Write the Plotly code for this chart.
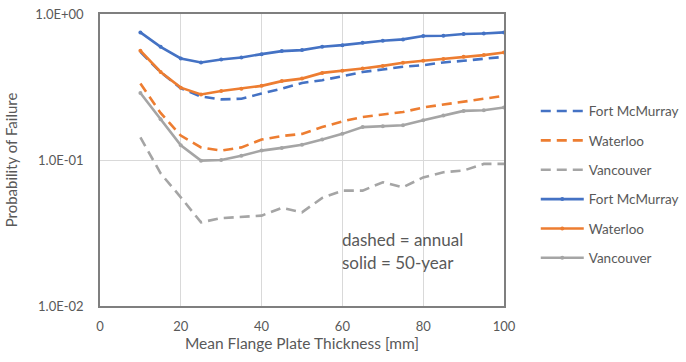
import plotly.graph_objects as go

thickness = [10, 15, 20, 25, 30, 35, 40, 45, 50, 55, 60, 65, 70, 75, 80, 85, 90, 95, 100]

fort_annual = [0.55, 0.40, 0.31, 0.272, 0.26, 0.263, 0.285, 0.308, 0.337, 0.352, 0.375, 0.401,
               0.417, 0.435, 0.446, 0.466, 0.478, 0.496, 0.509]
waterloo_annual = [0.334, 0.21, 0.147, 0.122, 0.116, 0.122, 0.138, 0.146, 0.151, 0.168, 0.184, 0.197,
                   0.205, 0.213, 0.229, 0.240, 0.25, 0.262, 0.275]
vancouver_annual = [0.143, 0.081, 0.0555, 0.0374, 0.040, 0.0408, 0.0416, 0.047, 0.0438, 0.055, 0.0617,
                    0.0617, 0.0704, 0.065, 0.076, 0.0824, 0.0847, 0.094, 0.094]

fort_50 = [0.748, 0.596, 0.496, 0.466, 0.488, 0.504, 0.531, 0.557, 0.566, 0.596, 0.612, 0.636,
           0.656, 0.670, 0.706, 0.71, 0.729, 0.736, 0.748]
waterloo_50 = [0.56, 0.401, 0.313, 0.281, 0.297, 0.308, 0.322, 0.347, 0.361, 0.395, 0.408, 0.423,
               0.441, 0.463, 0.478, 0.491, 0.509, 0.523, 0.545]
vancouver_50 = [0.288, 0.19, 0.126, 0.099, 0.100, 0.107, 0.116, 0.121, 0.127, 0.138, 0.151, 0.168,
                0.170, 0.173, 0.187, 0.202, 0.217, 0.219, 0.229]

y_tickvals = [0.01, 0.1, 1]
y_ticktext = ["1.0E-02", "1.0E-01", "1.0E+00"]

BLUE = "#4472C4"
ORANGE = "#ED7D31"
GRAY = "#A5A5A5"
TEXT = "#595959"
FONT = "Lato, 'Open Sans', sans-serif"

fig = go.Figure()

annual = [("Fort McMurray", fort_annual, BLUE), ("Waterloo", waterloo_annual, ORANGE),
          ("Vancouver", vancouver_annual, GRAY)]
fifty = [("Fort McMurray", fort_50, BLUE), ("Waterloo", waterloo_50, ORANGE),
         ("Vancouver", vancouver_50, GRAY)]

for i, (name, vals, col) in enumerate(annual):
    fig.add_trace(go.Scatter(x=thickness, y=vals, name=name, mode="lines",
                             line=dict(color=col, width=2.6, dash="10px,6px"),
                             legendgroup="a%d" % i))
for i, (name, vals, col) in enumerate(fifty):
    fig.add_trace(go.Scatter(x=thickness, y=vals, name=name, mode="lines+markers",
                             line=dict(color=col, width=2.6),
                             marker=dict(color=col, size=4, symbol="circle"),
                             legendgroup="b%d" % i))

fig.add_annotation(x=0.595, y=0.228, xref="paper", yref="paper", xanchor="left", yanchor="middle",
                   text="dashed = annual", showarrow=False,
                   font=dict(family=FONT, size=17, color=TEXT))
fig.add_annotation(x=0.595, y=0.148, xref="paper", yref="paper", xanchor="left", yanchor="middle",
                   text="solid = 50-year", showarrow=False,
                   font=dict(family=FONT, size=17, color=TEXT))

fig.update_layout(
    width=686, height=362,
    margin=dict(l=100, r=182, t=14, b=56),
    paper_bgcolor="white", plot_bgcolor="white",
    font=dict(family=FONT, size=12, color=TEXT),
    showlegend=True,
    legend=dict(xref="container", x=0.781, xanchor="left", y=0.72, yanchor="top",
                traceorder="grouped", tracegroupgap=8.8, itemwidth=43,
                font=dict(family=FONT, size=13.5, color=TEXT),
                bgcolor="rgba(0,0,0,0)"),
    xaxis=dict(range=[0, 100], tickvals=[0, 20, 40, 60, 80, 100], automargin=False,
               showgrid=True, gridcolor="#D9D9D9", gridwidth=1,
               showline=True, linecolor="#7F7F7F", linewidth=1.5, mirror=True,
               zeroline=False, ticks="outside", ticklen=8, tickcolor="rgba(0,0,0,0)",
               tickfont=dict(family=FONT, size=13, color=TEXT),
               title=dict(text="Mean Flange Plate Thickness [mm]", standoff=3,
                          font=dict(family=FONT, size=15.5, color=TEXT))),
    yaxis=dict(type="log", range=[-2, 0], tickvals=y_tickvals, ticktext=y_ticktext, automargin=False,
               showgrid=True, gridcolor="#D9D9D9", gridwidth=1,
               showline=True, linecolor="#7F7F7F", linewidth=1.5, mirror=True,
               zeroline=False, ticks="outside", ticklen=12, tickcolor="rgba(0,0,0,0)",
               tickfont=dict(family=FONT, size=13, color=TEXT),
               title=dict(text="Probability of Failure", standoff=14,
                          font=dict(family=FONT, size=15, color=TEXT))),
)

fig.write_html("out.html", config={"displayModeBar": False},
               post_script="document.body.style.margin='0';")
